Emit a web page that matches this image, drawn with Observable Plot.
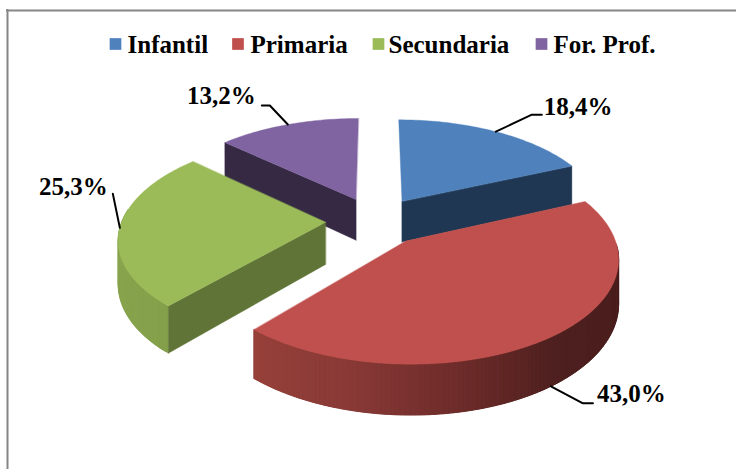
<!DOCTYPE html>
<html><head><meta charset="utf-8">
<script src="https://cdn.jsdelivr.net/npm/d3@7"></script>
<script src="https://cdn.jsdelivr.net/npm/@observablehq/plot@0.6"></script>
<style>html,body{margin:0;padding:0;background:#fff}svg{display:block}</style>
</head><body><div id="chart"></div>
<script>
const categories = ["Infantil", "Primaria", "Secundaria", "For. Prof."];
const shares = [18.4, 43.0, 25.3, 13.2];
const labels = ["18,4%", "43,0%", "25,3%", "13,2%"];
const topColors = ["#4F81BD", "#C0504D", "#9BBB59", "#8064A2"];
const cutColors = ["#1F3752", "#7A3230", "#5F7436", "#352943"];
const rimShades = [
  ["#22384F", "#22384F"],
  ["#4B1F1E", "#4B1F1E", "#4E201F", "#6E2C2A", "#8A3A37", "#964039"],
  ["#85A04B", "#8BA750"],
  ["#352943", "#352943"]
];
// view of the tilted pie
const view = {ox: 375, oy: 220.5, R: 203.6, Rk: 98.7, p: 0.1457, explode: 0.245, depth: 42};
const leaderOffsets = [[[36, -17], [46, -17]], [[32, 17], [42, 17]], [[-7, -34]], [[-18, -19], [-26, -19]]];
const labelOffsets = [[48, -25, "start"], [46, 8, "start"], [-12, -41, "end"], [-32, -29, "end"]];

const slices = d3.pie().sort(null)(shares);
function project(s, theta, drop) {
  const mid = (s.startAngle + s.endAngle) / 2;
  const wx = view.explode * Math.sin(mid) + (theta == null ? 0 : Math.sin(theta));
  const wy = view.explode * Math.cos(mid) + (theta == null ? 0 : Math.cos(theta));
  const k = 1 / (1 + view.p * wy);
  return [view.ox + view.R * wx * k, view.oy - view.Rk * wy * k + (drop ? view.depth * k : 0)];
}
function arc(s, a, b, drop) {
  const n = Math.max(2, Math.ceil(Math.abs(b - a) / 0.02)), out = [];
  for (let i = 0; i <= n; i++) out.push(project(s, a + (b - a) * i / n, drop));
  return out;
}
const polys = [];
let pid = 0;
function poly(points, color) { const id = pid++; points.forEach(([x, y]) => polys.push({x, y, id, color})); }
function cut(s, theta, color) {
  poly([project(s, null, false), project(s, theta, false), project(s, theta, true), project(s, null, true)], color);
}
function rim(s, a, b, shades) {
  const shade = d3.piecewise(d3.interpolateRgb, shades);
  const n = Math.ceil((b - a) / 0.02);
  for (let i = 0; i < n; i++) {
    const t0 = a + (b - a) * i / n, t1 = a + (b - a) * Math.min(n, i + 3) / n;
    poly([...arc(s, t0, t1, false), ...arc(s, t1, t0, true)], d3.rgb(shade((i + .5) / n)).formatHex());
  }
}
function face(s, color) { poly([project(s, null, false), ...arc(s, s.startAngle, s.endAngle, false)], color); }
const [sB, sR, sG, sP] = slices;
// painter's order: back slices first
cut(sP, sP.startAngle, cutColors[3]); face(sP, topColors[3]);
cut(sB, sB.endAngle, cutColors[0]); face(sB, topColors[0]);
rim(sG, sG.startAngle, 4.85, rimShades[2]);
cut(sG, sG.startAngle, cutColors[2]); face(sG, topColors[2]);
rim(sR, 1.6, sR.endAngle, rimShades[1]);
face(sR, topColors[1]);

const leaders = [], texts = [];
slices.forEach((s, i) => {
  const [x0, y0] = project(s, (s.startAngle + s.endAngle) / 2, i === 1);
  leaders.push({x: x0, y: y0, i});
  leaderOffsets[i].forEach(([dx, dy]) => leaders.push({x: x0 + dx, y: y0 + dy, i}));
  const [dx, dy, anchor] = labelOffsets[i];
  texts.push({x: x0 + dx, y: y0 + dy, label: labels[i], anchor});
});
// legend row
const legendX = [127, 250, 388, 553];
const swatchX = [115, 237.5, 378, 541];
const legend = categories.map((c, i) => ({c, x: legendX[i], sx: swatchX[i], color: topColors[i]}));
const serif = "'Liberation Serif','Times New Roman',serif";
const frameColor = "#868686";

const plot = Plot.plot({
  width: 736, height: 469, margin: 0,
  x: {domain: [0, 736], range: [0, 736], axis: null},
  y: {domain: [0, 469], range: [0, 469], axis: null},
  color: {type: "identity"},
  marks: [
    Plot.ruleY([10], {x1: 6, x2: 736, stroke: frameColor, strokeWidth: 2}),
    Plot.ruleX([7], {y1: 9, y2: 469, stroke: frameColor, strokeWidth: 2}),
    Plot.line(polys, {x: "x", y: "y", z: "id", fill: "color", stroke: "color", strokeWidth: 0.4, curve: "linear-closed"}),
    Plot.line(leaders, {x: "x", y: "y", z: "i", stroke: "#000", strokeWidth: 2}),
    Plot.text(texts.filter(d => d.anchor === "start"), {x: "x", y: "y", text: "label", textAnchor: "start", fontFamily: serif, fontWeight: 700, fontSize: 25, fill: "#000"}),
    Plot.text(texts.filter(d => d.anchor === "end"), {x: "x", y: "y", text: "label", textAnchor: "end", fontFamily: serif, fontWeight: 700, fontSize: 25, fill: "#000"}),
    Plot.dot(legend, {x: "sx", y: () => 43.5, symbol: "square", r: 6.6, fill: "color", stroke: "none"}),
    Plot.text(legend, {x: "x", y: () => 44.5, text: "c", textAnchor: "start", fontFamily: serif, fontWeight: 700, fontSize: 25, fill: "#000"})
  ]
});
document.getElementById("chart").append(plot);
</script></body></html>
